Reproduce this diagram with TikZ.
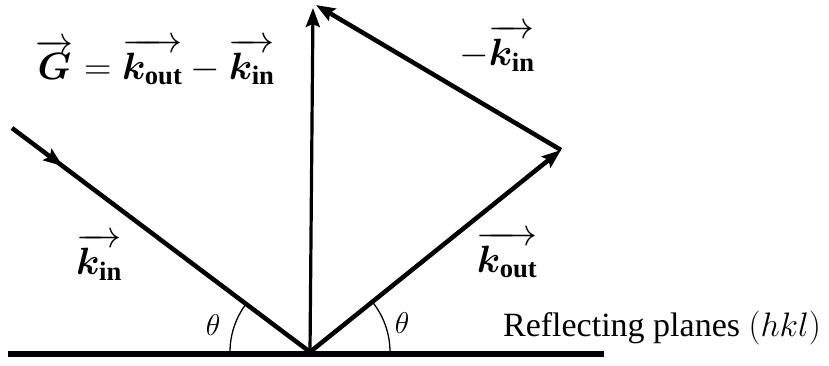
\RequirePackage{fix-cm}
\documentclass[tikz,border=0pt]{standalone}
\usepackage{amsmath,bm}
\usepackage{fontspec}
\setmainfont{Liberation Serif}
\usetikzlibrary{arrows.meta,decorations.markings}
\tikzset{
  vec/.style={line width=4.5pt,-{Stealth[length=19pt,width=14pt,inset=3pt]}},
  midarrow/.style={line width=4.5pt,postaction={decorate},decoration={markings,
    mark=at position 0.17 with {\arrow{Stealth[length=19pt,width=14pt,inset=3pt]}}}},
  plane/.style={line width=5.5pt},
  anglearc/.style={line width=1.3pt},
  lbl/.style={inner sep=0pt,font=\fontsize{38}{44}\selectfont},
  thlbl/.style={inner sep=0pt,font=\fontsize{30}{34}\selectfont}
}
\begin{document}
\begin{tikzpicture}[x=1pt,y=-1pt]
\useasboundingbox (0,0) rectangle (829,365);
\coordinate (O) at (310,352);
\coordinate (S) at (12,128);
\coordinate (T) at (313,8);
\coordinate (K) at (561,150);
\coordinate (L) at (8,354);
\coordinate (R) at (604,354);
% plane
\draw[plane] (L) -- (R);
% incoming
\draw[midarrow] (S) -- (O);
% G
\draw[vec,line width=3.2pt] (O) -- (T);
% k_out
\draw[vec] (O) -- (K);
% -k_in
\draw[vec] (K) -- ([xshift=3pt,yshift=3pt]T);
% angle arcs
\draw[anglearc] ([xshift=-80pt]O) arc[start angle=180,end angle=143,radius=80pt];
\draw[anglearc] ([xshift=80pt]O) arc[start angle=0,end angle=39,radius=80pt];
% labels
\node[lbl] (geq) at (155,62) {$\overrightarrow{\bm{G}}=\overrightarrow{\bm{k}_{\mathbf{out}}}-\overrightarrow{\bm{k}_{\mathbf{in}}}$};
\node[lbl] (mkin) at (497,48) {$-\overrightarrow{\bm{k}_{\mathbf{in}}}$};
\node[lbl] (kin) at (99,257) {$\overrightarrow{\bm{k}_{\mathbf{in}}}$};
\node[lbl] (kout) at (507,255) {$\overrightarrow{\bm{k}_{\mathbf{out}}}$};
\node[thlbl] (th1) at (213,325) {$\theta$};
\node[thlbl] (th2) at (402,323) {$\theta$};
\node[inner sep=0pt,font=\fontsize{34}{40}\selectfont] (refl) at (662,328) {Reflecting planes $(hkl)$};
\end{tikzpicture}
\end{document}
